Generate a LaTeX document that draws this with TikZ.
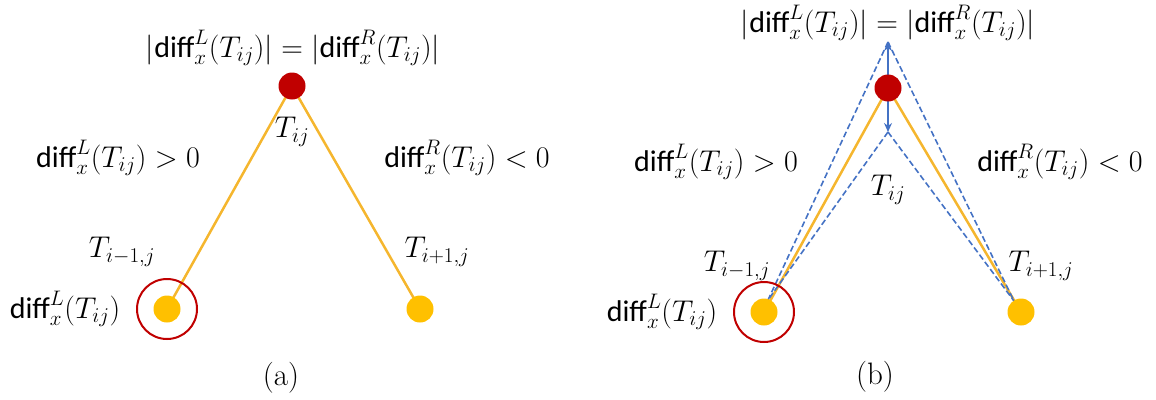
\RequirePackage{fix-cm}
\documentclass[tikz,border=0pt]{standalone}
\usepackage{fontspec}
\newfontfamily\dffont{Carlito}
\usetikzlibrary{arrows.meta}
\newcommand{\dif}{\hbox{\dffont diff}}
\definecolor{dred}{HTML}{C00000}
\definecolor{gold}{HTML}{FFC000}
\definecolor{goldline}{HTML}{F5B62E}
\definecolor{dblue}{HTML}{4472C4}
\tikzset{
  lab/.style={inner sep=0pt, font=\fontsize{30}{36}\selectfont},
  sublabel/.style={inner sep=0pt, font=\fontsize{31}{36}\selectfont},
  reddot/.style={circle, fill=dred, minimum size=27pt, inner sep=0pt},
  ydot/.style={circle, fill=gold, minimum size=27pt, inner sep=0pt},
  ring/.style={circle, draw=dred, line width=2pt, minimum size=60pt, inner sep=0pt},
  yline/.style={draw=goldline, line width=2.5pt},
  bdash/.style={draw=dblue, line width=1.6pt, dash pattern=on 6pt off 3pt},
  barrow/.style={draw=dblue, line width=1.8pt, {Stealth[length=9pt,width=8pt]}-{Stealth[length=9pt,width=8pt]}},
}
\begin{document}
\begin{tikzpicture}[x=1pt,y=-1pt]
\useasboundingbox (0,0) rectangle (1156,399);
% ---------- (a)
\coordinate (aT) at (292,86);
\coordinate (aL) at (167,309);
\coordinate (aR) at (420,309);
\draw[yline] (aT) -- (aL);
\draw[yline] (aT) -- (aR);
\node[reddot] (aTd) at (aT) {};
\node[ydot] (aLd) at (aL) {};
\node[ydot] (aRd) at (aR) {};
\node[ring] (aring) at (aL) {};
\node[lab] (atop) at (293,48) {$\bigl|\dif_x^L(T_{ij})\bigr| = \bigl|\dif_x^R(T_{ij})\bigr|$};
\node[lab] (atij) at (292,132) {$T_{ij}$};
\node[lab] (aleft) at (118,158) {$\dif_x^L(T_{ij}) > 0$};
\node[lab] (aright) at (467,158) {$\dif_x^R(T_{ij}) < 0$};
\node[lab] (aim) at (122,252) {$T_{i-1,j}$};
\node[lab] (aip) at (437,252) {$T_{i+1,j}$};
\node[lab] (adl) at (65,309) {$\dif_x^L(T_{ij})$};
\node[sublabel] (capa) at (281,378) {(a)};
% ---------- (b)
\coordinate (bT) at (888,88);
\coordinate (bL) at (764,312);
\coordinate (bR) at (1021,312);
\coordinate (bTop) at (888,42);
\coordinate (bBot) at (888,132);
\coordinate (bLe) at (768,300);
\coordinate (bRe) at (1014,301);
\draw[yline] (bT) -- (bL);
\draw[yline] (bT) -- (bR);
\draw[bdash] (bTop) -- (bLe);
\draw[bdash] (bTop) -- (bRe);
\draw[bdash] (bBot) -- (bLe);
\draw[bdash] (bBot) -- (bRe);
\draw[barrow] (bTop) -- (bBot);
\node[reddot] (bTd) at (bT) {};
\node[ydot] (bLd) at (bL) {};
\node[ydot] (bRd) at (bR) {};
\node[ring] (bring) at (bL) {};
\node[lab] (btop) at (888,23) {$\bigl|\dif_x^L(T_{ij})\bigr| = \bigl|\dif_x^R(T_{ij})\bigr|$};
\node[lab] (btij) at (888,190) {$T_{ij}$};
\node[lab] (bleft) at (716,162) {$\dif_x^L(T_{ij}) > 0$};
\node[lab] (bright) at (1060,162) {$\dif_x^R(T_{ij}) < 0$};
\node[lab] (bim) at (737,266) {$T_{i-1,j}$};
\node[lab] (bip) at (1041,266) {$T_{i+1,j}$};
\node[lab] (bdl) at (662,312) {$\dif_x^L(T_{ij})$};
\node[sublabel] (capb) at (875,377) {(b)};
\end{tikzpicture}
\end{document}
